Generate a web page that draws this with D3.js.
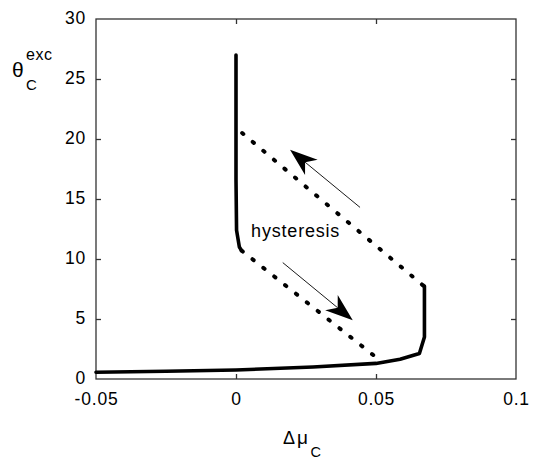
<!DOCTYPE html>
<html>
<head>
<meta charset="utf-8">
<script src="https://cdn.jsdelivr.net/npm/d3@7"></script>
<style>
  html, body { margin: 0; padding: 0; background: #fff; }
  svg { display: block; }
  text { font-family: "Liberation Sans", Arial, Helvetica, sans-serif; fill: #000; }
</style>
</head>
<body>
<svg id="chart" width="533" height="459"></svg>
<script>
// Stable branch at low coverage (Δμ_C, θ_C^exc)
const lowerBranch = [
  [-0.05, 0.56], [-0.025, 0.64], [0.0, 0.75], [0.0275, 1.0], [0.05, 1.3],
  [0.0586, 1.64], [0.0655, 2.13], [0.0673, 3.5], [0.0673, 7.75]
];
// Stable branch at high coverage
const upperBranch = [
  [0.0, 27.0], [0.0, 16.6], [0.0002, 12.4], [0.0012, 11.0], [0.002, 10.7]
];
// Jumps between the branches (dotted)
const jumpUp = [[0.0668, 7.8], [0.0022, 20.5]];
const jumpDown = [[0.002, 10.7], [0.049, 2.0]];
// Direction arrows: [tail, tip]
const arrowUp = [[0.0443, 14.3], [0.0193, 19.1]];
const arrowDown = [[0.0167, 9.7], [0.0417, 4.9]];
const annotation = { text: "hysteresis", at: [0.0054, 11.8] };

const xTicks = [-0.05, 0, 0.05, 0.1];
const xTickLabels = ["-0.05", "0", "0.05", "0.1"];
const yTicks = [0, 5, 10, 15, 20, 25, 30];
const yTickLabels = ["0", "5", "10", "15", "20", "25", "30"];

const svg = d3.select("#chart");
const plotLeft = 96, plotRight = 516, plotTop = 19, plotBottom = 379;

const x = d3.scaleLinear().domain([-0.05, 0.1]).range([plotLeft, plotRight]);
const y = d3.scaleLinear().domain([0, 30]).range([plotBottom, plotTop]);

const tickFont = "17.5px";

// Axes with inward ticks on all four sides
const gL = svg.append("g").attr("transform", `translate(${plotLeft},0)`)
  .call(d3.axisLeft(y).tickValues(yTicks).tickFormat((d, i) => yTickLabels[i])
    .tickSizeInner(-5).tickSizeOuter(0).tickPadding(10));
const gR = svg.append("g").attr("transform", `translate(${plotRight},0)`)
  .call(d3.axisRight(y).tickValues(yTicks).tickFormat("")
    .tickSizeInner(-5).tickSizeOuter(0));
const gB = svg.append("g").attr("transform", `translate(0,${plotBottom})`)
  .call(d3.axisBottom(x).tickValues(xTicks).tickFormat((d, i) => xTickLabels[i])
    .tickSizeInner(-5).tickSizeOuter(0).tickPadding(14));
const gT = svg.append("g").attr("transform", `translate(0,${plotTop})`)
  .call(d3.axisTop(x).tickValues(xTicks).tickFormat("")
    .tickSizeInner(-5).tickSizeOuter(0));

[gL, gR, gB, gT].forEach(g => {
  g.select(".domain").remove();
  g.selectAll(".tick line").attr("stroke", "#333").attr("stroke-width", 1.3);
  g.selectAll(".tick text").attr("font-size", tickFont)
    .attr("font-family", "Liberation Sans, Arial, sans-serif")
    .attr("letter-spacing", "0.8px").attr("fill", "#000");
});
gL.selectAll(".tick text").attr("dy", "0.24em");
// Edge ticks coincide with the frame
[gL, gR].forEach(g => g.selectAll(".tick").filter(d => d === 0 || d === 30).select("line").remove());
[gB, gT].forEach(g => g.selectAll(".tick").filter(d => d === -0.05 || d === 0.1).select("line").remove());

// Frame
svg.append("rect")
  .attr("x", x(-0.05)).attr("y", y(30))
  .attr("width", x(0.1) - x(-0.05)).attr("height", y(0) - y(30))
  .attr("fill", "none").attr("stroke", "#333").attr("stroke-width", 1.3);

const line = d3.line().x(d => x(d[0])).y(d => y(d[1]));

// Stable branches
[lowerBranch, upperBranch].forEach(b => {
  svg.append("path").attr("d", line(b))
    .attr("fill", "none").attr("stroke", "#000").attr("stroke-width", 3.6)
    .attr("stroke-linejoin", "round").attr("stroke-linecap", "round");
});

// Jumps: dots spaced so that both ends carry a dot
[jumpUp, jumpDown].forEach(j => {
  const p = svg.append("path").attr("d", line(j))
    .attr("fill", "none").attr("stroke", "#000").attr("stroke-width", 4)
    .attr("stroke-linecap", "round");
  const len = p.node().getTotalLength();
  const dash = 1.5;
  const n = Math.round((len - dash) / 14);
  const gap = (len - dash) / n - dash;
  p.attr("stroke-dasharray", `${dash},${gap}`);
});

// Arrows with a swept-back head
function arrow(a) {
  const [tx, ty] = [x(a[0][0]), y(a[0][1])];
  const [hx, hy] = [x(a[1][0]), y(a[1][1])];
  const len = Math.hypot(hx - tx, hy - ty);
  const ux = (hx - tx) / len, uy = (hy - ty) / len;
  const px = -uy, py = ux;
  const headLen = 27.6, notch = 19.5, half = 9.9;
  const bx = hx - ux * headLen, by = hy - uy * headLen;
  const nx = hx - ux * notch, ny = hy - uy * notch;
  svg.append("line")
    .attr("x1", tx).attr("y1", ty).attr("x2", nx).attr("y2", ny)
    .attr("stroke", "#000").attr("stroke-width", 0.9);
  svg.append("path")
    .attr("d", `M${hx},${hy}L${bx + px * half},${by + py * half}L${nx},${ny}L${bx - px * half},${by - py * half}Z`)
    .attr("fill", "#000");
}
arrow(arrowUp);
arrow(arrowDown);

svg.append("text")
  .attr("x", x(annotation.at[0])).attr("y", y(annotation.at[1]))
  .attr("font-size", "18px").attr("letter-spacing", "0.8px")
  .text(annotation.text);

// Y-axis title θ_C^exc
const yt = svg.append("g");
yt.append("text").attr("x", 12).attr("y", 77).attr("font-size", "21px").text("θ");
yt.append("text").attr("x", 26).attr("y", 60).attr("font-size", "16px").attr("letter-spacing", "0.5px").text("exc");
yt.append("text").attr("x", 26).attr("y", 90).attr("font-size", "15px").text("C");

// X-axis title Δμ_C
const xt = svg.append("g");
xt.append("text").attr("x", 283).attr("y", 444)
  .attr("font-family", "Liberation Serif, Times New Roman, serif").attr("font-size", "18px")
  .text("Δ");
xt.append("text").attr("x", 297).attr("y", 444)
  .attr("font-family", "Liberation Serif, Times New Roman, serif").attr("font-size", "19px")
  .text("μ");
xt.append("text").attr("x", 310.5).attr("y", 456.5).attr("font-size", "14.5px").text("C");
</script>
</body>
</html>
